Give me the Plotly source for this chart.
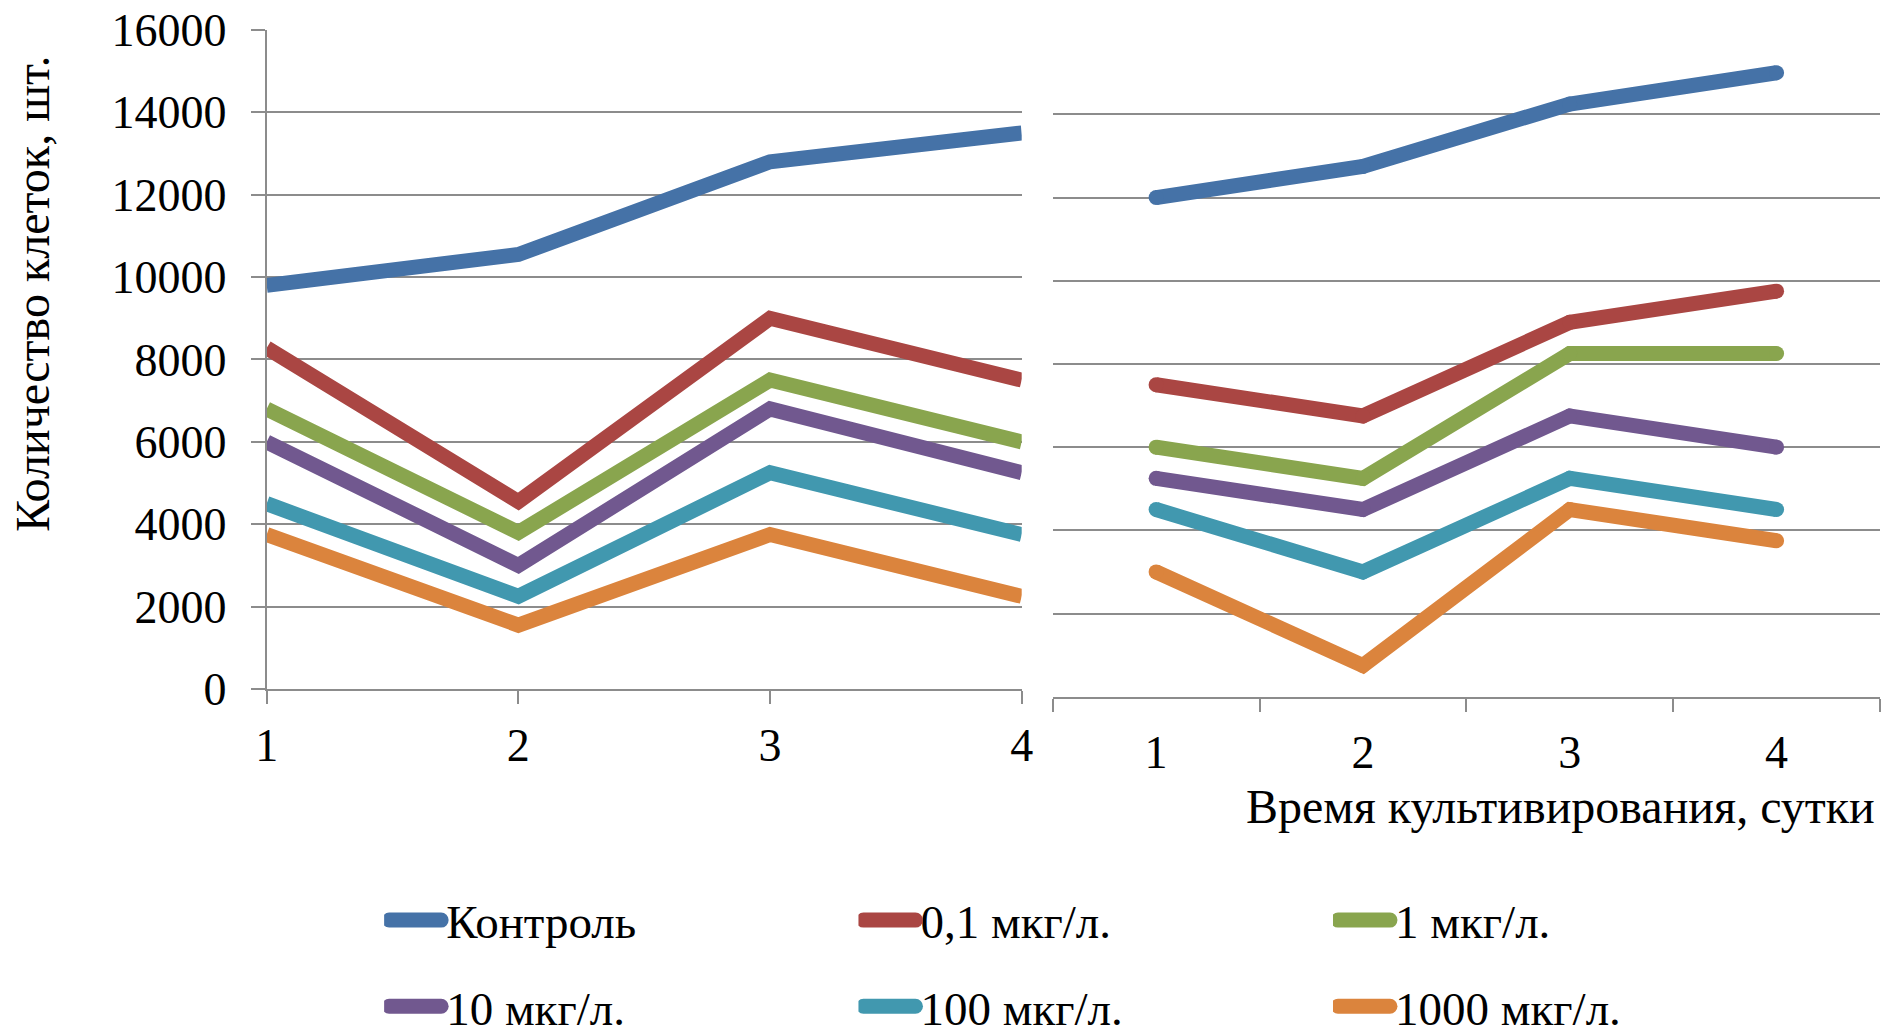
import plotly.graph_objects as go

# Days of cultivation
days = [1, 2, 3, 4]
day_labels = ["1", "2", "3", "4"]

# Series names (concentration groups)
names = ["Контроль", "0,1 мкг/л.", "1 мкг/л.", "10 мкг/л.", "100 мкг/л.", "1000 мкг/л."]
colors = ["#4572A7", "#AA4643", "#89A54E", "#71588F", "#4198AF", "#DB843D"]

# Left panel: cell counts per day
left_control = [9800, 10550, 12800, 13500]
left_c01 = [8280, 4550, 9000, 7500]
left_c1 = [6800, 3800, 7500, 6000]
left_c10 = [6000, 3000, 6800, 5250]
left_c100 = [4500, 2250, 5250, 3750]
left_c1000 = [3750, 1550, 3750, 2250]

# Right panel: cell counts per day
right_control = [12000, 12750, 14250, 15000]
right_c01 = [7500, 6750, 9000, 9750]
right_c1 = [6000, 5250, 8250, 8250]
right_c10 = [5250, 4500, 6750, 6000]
right_c100 = [4500, 3000, 5250, 4500]
right_c1000 = [3000, 750, 4500, 3750]

y_ticks = [0, 2000, 4000, 6000, 8000, 10000, 12000, 14000, 16000]
y_tick_text = [str(v) for v in y_ticks]

left_series = [left_control, left_c01, left_c1, left_c10, left_c100, left_c1000]
right_series = [right_control, right_c01, right_c1, right_c10, right_c100, right_c1000]

# column layout of the legend: three legends, two entries each
legend_ids = ["legend", "legend2", "legend3", "legend", "legend2", "legend3"]

FONT = "Liberation Serif"
GRID = "#8C8C8C"
LW = 15

fig = go.Figure()

for i, (name, col) in enumerate(zip(names, colors)):
    fig.add_trace(go.Scatter(
        x=days, y=left_series[i], mode="lines", name=name,
        line=dict(color=col, width=LW),
        xaxis="x", yaxis="y",
        legend=legend_ids[i], legendgroup=name,
    ))

for i, (name, col) in enumerate(zip(names, colors)):
    fig.add_trace(go.Scatter(
        x=day_labels, y=right_series[i], mode="lines+markers", name=name,
        line=dict(color=col, width=LW),
        marker=dict(color=col, size=LW, line=dict(width=0)),
        xaxis="x2", yaxis="y2", showlegend=False, cliponaxis=False,
    ))

axis_font = dict(family=FONT, size=46, color="black")

legend_common = dict(
    orientation="v", font=dict(family=FONT, size=47, color="black"),
    bgcolor="rgba(0,0,0,0)", itemwidth=52, traceorder="grouped",
    tracegroupgap=22, yanchor="top", xanchor="left", y=0.141,
    itemclick=False,
)

fig.update_layout(
    width=1883, height=1028,
    margin=dict(l=0, r=0, t=0, b=0, autoexpand=False),
    paper_bgcolor="white", plot_bgcolor="white",
    font=dict(family=FONT, color="black"),
    xaxis=dict(
        domain=[0.14163, 0.54259], range=[1, 4],
        tickvals=days, ticktext=day_labels,
        ticks="outside", ticklen=13, tickwidth=2, tickcolor=GRID,
        showline=True, linecolor=GRID, linewidth=2,
        showgrid=False, zeroline=False, tickfont=axis_font,
        ticklabelstandoff=2, automargin=False,
    ),
    yaxis=dict(
        domain=[0.32977, 0.97082], range=[0, 16000],
        tickvals=y_ticks, ticktext=y_tick_text,
        ticks="outside", ticklen=14, tickwidth=2, tickcolor=GRID,
        showline=True, linecolor=GRID, linewidth=2,
        showgrid=True, gridcolor=GRID, gridwidth=2, zeroline=False,
        tickfont=axis_font, ticklabelstandoff=15, automargin=False,
    ),
    xaxis2=dict(
        domain=[0.55905, 0.99841], type="category",
        categoryorder="array", categoryarray=day_labels,
        range=[-0.5, 3.5], tickson="boundaries",
        ticks="outside", ticklen=13, tickwidth=2, tickcolor=GRID,
        showline=True, linecolor=GRID, linewidth=2,
        showgrid=False, zeroline=False, tickfont=axis_font,
        ticklabelstandoff=14, anchor="y2", automargin=False,
    ),
    yaxis2=dict(
        domain=[0.32228, 0.96965], range=[0, 16000],
        tickvals=y_ticks, showticklabels=False, ticks="",
        showline=False, showgrid=True, gridcolor=GRID, gridwidth=2,
        zeroline=False, anchor="x2", automargin=False,
    ),
    legend=dict(legend_common, x=0.2040),
    legend2=dict(legend_common, x=0.4559),
    legend3=dict(legend_common, x=0.7079),
    showlegend=True,
    annotations=[
        dict(text="Время культивирования, сутки", xref="paper", yref="paper",
             x=0.997, y=1 - 806 / 1028, xanchor="right", yanchor="middle",
             showarrow=False, font=dict(family=FONT, size=48, color="black")),
        dict(text="Количество клеток, шт.", xref="paper", yref="paper",
             x=32 / 1883, y=1 - 294 / 1028, xanchor="center", yanchor="middle",
             textangle=-90, showarrow=False,
             font=dict(family=FONT, size=48, color="black")),
    ],
)

# thicker, round-ended legend keys like the plotted lines
legend_key_style = """
var gd = document.getElementById('{plot_id}');
function styleKeys() {
  gd.querySelectorAll('.legendlines path').forEach(function (p) {
    p.style.strokeWidth = '15px';
    p.style.strokeLinecap = 'round';
  });
}
styleKeys();
gd.on('plotly_afterplot', styleKeys);
"""

fig.write_html("out.html", post_script=legend_key_style)
